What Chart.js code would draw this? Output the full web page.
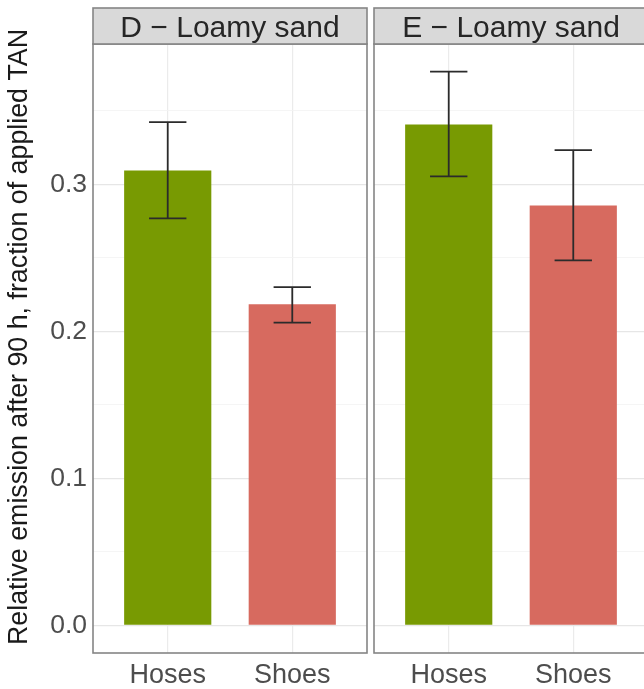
<!DOCTYPE html>
<html>
<head>
<meta charset="utf-8">
<script src="https://cdn.jsdelivr.net/npm/chart.js@4"></script>
<style>
    html, body { margin: 0; padding: 0; background: #fff; overflow: hidden; }
    body { width: 644px; height: 689px; position: relative; }
    canvas { position: absolute; top: 0; }
    #panel-d { left: 0; }
    #panel-e { left: 368px; }
</style>
</head>
<body>
<canvas id="panel-d" width="370" height="689"></canvas>
<canvas id="panel-e" width="283" height="689"></canvas>
<script>
// data
const categories = ['Hoses', 'Shoes'];
const panels = ['D \u2212 Loamy sand', 'E \u2212 Loamy sand'];
const means = [[0.3095, 0.2184], [0.3408, 0.2857]];
const lower = [[0.2769, 0.2059], [0.3054, 0.2483]];
const upper = [[0.3424, 0.2301], [0.3767, 0.3233]];
const yTicks = [0, 0.05, 0.1, 0.15, 0.2, 0.25, 0.3, 0.35];
const yTitle = 'Relative emission after 90 h, fraction of applied TAN';
const barColors = ['#789a02', '#d76a5f'];

const FONT = "'Liberation Sans', Arial, sans-serif";
const isMajor = (v) => Math.round(v * 100) % 10 === 0;

const panelPlugin = {
    id: 'panelPlugin',
    afterDraw(chart) {
        const { ctx, chartArea: a, scales } = chart;
        const p = chart.options.plugins.panelPlugin;
        // error bars
        ctx.save();
        ctx.strokeStyle = '#2b2b2b';
        ctx.lineWidth = 1.8;
        p.lo.forEach((lo, i) => {
            const hi = p.hi[i];
            const xc = scales.x.getPixelForValue(i);
            const xl = scales.x.getPixelForValue(i - 0.15);
            const xr = scales.x.getPixelForValue(i + 0.15);
            const yl = scales.y.getPixelForValue(lo);
            const yh = scales.y.getPixelForValue(hi);
            ctx.beginPath();
            ctx.moveTo(xc, yl); ctx.lineTo(xc, yh);
            ctx.moveTo(xl, yl); ctx.lineTo(xr, yl);
            ctx.moveTo(xl, yh); ctx.lineTo(xr, yh);
            ctx.stroke();
        });
        // panel border
        ctx.strokeStyle = '#858585';
        ctx.lineWidth = 1.6;
        ctx.strokeRect(a.left, a.top, a.right - a.left, a.bottom - a.top);
        // facet strip
        ctx.fillStyle = '#d9d9d9';
        ctx.fillRect(a.left, 8, a.right - a.left, a.top - 8);
        ctx.strokeRect(a.left, 8, a.right - a.left, a.top - 8);
        ctx.fillStyle = '#262626';
        ctx.font = '30px ' + FONT;
        ctx.textAlign = 'center';
        ctx.textBaseline = 'middle';
        ctx.fillText(p.label, (a.left + a.right) / 2, (8 + a.top) / 2 + 3);
        // y axis title (only on the first panel)
        if (p.yTitle) {
            ctx.fillStyle = '#1a1a1a';
            ctx.translate(20, 337);
            ctx.rotate(-Math.PI / 2);
            ctx.font = '26.8px ' + FONT;
            ctx.fillText(p.yTitle, 0, 0);
        }
        ctx.restore();
    }
};

function makePanel(canvasId, k, showY) {
    return new Chart(document.getElementById(canvasId), {
        type: 'bar',
        data: {
            datasets: [{
                data: means[k].map((v, i) => ({ x: i, y: v })),
                backgroundColor: barColors,
                borderWidth: 0,
                barPercentage: 0.7,
                categoryPercentage: 1
            }]
        },
        options: {
            responsive: false,
            animation: false,
            layout: { padding: { top: 44, right: 3, left: showY ? 0 : 6, bottom: 0 } },
            plugins: {
                legend: { display: false },
                tooltip: { enabled: false },
                panelPlugin: { label: panels[k], lo: lower[k], hi: upper[k], yTitle: showY ? yTitle : null }
            },
            scales: {
                x: {
                    type: 'linear',
                    offset: false,
                    min: -0.6,
                    max: 1.6,
                    afterBuildTicks: (s) => { s.ticks = categories.map((c, i) => ({ value: i })); },
                    afterFit: (s) => { s.height = 36; },
                    border: { display: false },
                    grid: { offset: false, color: '#ebebeb', lineWidth: 1.2, drawTicks: false },
                    ticks: {
                        padding: 6,
                        color: '#4d4d4d',
                        font: { family: FONT, size: 27 },
                        callback: (v) => categories[v]
                    }
                },
                y: {
                    min: -0.0188,
                    max: 0.3955,
                    afterBuildTicks: (s) => { s.ticks = yTicks.map(v => ({ value: v })); },
                    afterFit: (s) => { s.width = showY ? 93 : 0; },
                    border: { display: false },
                    grid: {
                        drawTicks: false,
                        color: (c) => isMajor(c.tick.value) ? '#e6e6e6' : '#f3f3f3',
                        lineWidth: (c) => isMajor(c.tick.value) ? 1.3 : 0.8
                    },
                    ticks: {
                        display: showY,
                        padding: 6,
                        color: '#4d4d4d',
                        font: { family: FONT, size: 26.5 },
                        callback: (v) => isMajor(v) ? v.toFixed(1) : ''
                    }
                }
            }
        },
        plugins: [panelPlugin]
    });
}

makePanel('panel-d', 0, true);
makePanel('panel-e', 1, false);
</script>
</body>
</html>
